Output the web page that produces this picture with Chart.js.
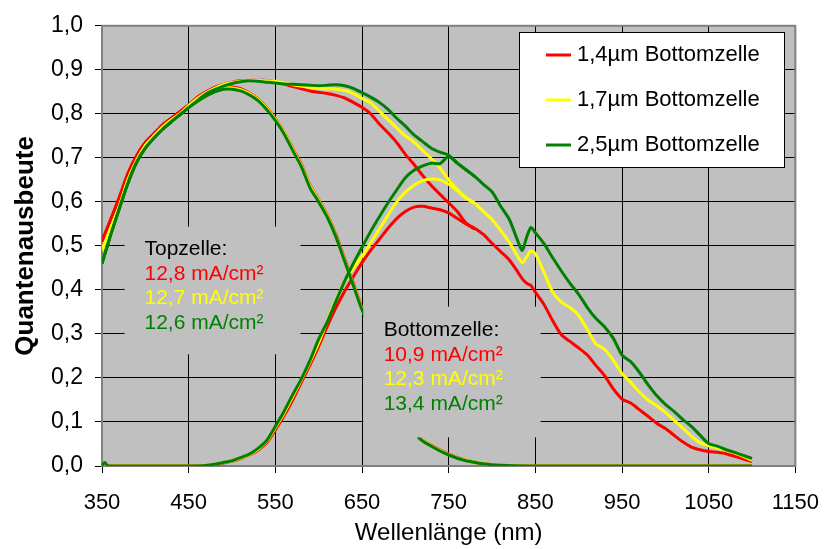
<!DOCTYPE html>
<html>
<head>
<meta charset="utf-8">
<script src="https://cdn.jsdelivr.net/npm/chart.js@4/dist/chart.umd.min.js"></script>
<style>
  html, body { margin: 0; padding: 0; background: #fff; }
</style>
</head>
<body>
<canvas id="grafico" width="836" height="549"></canvas>
<script>
// Quantenausbeute Tandemzelle: Summe, Topzelle, Bottomzelle je Bottomzellen-Dicke

const legendeTexte = ["1,4µm Bottomzelle", "1,7µm Bottomzelle", "2,5µm Bottomzelle"];
const topTitel = "Topzelle:";
const topStroeme = ["12,8 mA/cm²", "12,7 mA/cm²", "12,6 mA/cm²"];
const bottomTitel = "Bottomzelle:";
const bottomStroeme = ["10,9 mA/cm²", "12,3 mA/cm²", "13,4 mA/cm²"];

// Summenkurven
const wellenSumme = [
  350, 360, 370, 380, 390, 400, 410, 420, 430, 440, 450, 460, 470, 480, 490, 500,
  510, 520, 530, 540, 550, 560, 570, 580, 590, 600, 610, 620, 630, 640, 650, 660,
  670, 680, 690, 700, 710, 720, 730, 740, 750, 760, 770, 780, 790, 800, 810, 820,
  830, 835, 840, 845, 850, 860, 870, 880, 890, 900, 910, 920, 930, 940, 950, 960,
  970, 980, 990, 1000, 1010, 1020, 1030, 1040, 1050, 1060, 1070, 1080, 1090, 1100
];
const summe14 = [
  0.51, 0.56, 0.61, 0.665, 0.705, 0.735, 0.755, 0.775, 0.79, 0.805, 0.82, 0.838, 0.85, 0.86, 0.867, 0.872,
  0.875, 0.876, 0.876, 0.876, 0.873, 0.868, 0.862, 0.857, 0.852, 0.849, 0.846, 0.842, 0.836, 0.826, 0.815, 0.80,
  0.777, 0.757, 0.735, 0.708, 0.685, 0.66, 0.637, 0.617, 0.598, 0.578, 0.552, 0.54, 0.526, 0.506, 0.487, 0.468,
  0.44, 0.425, 0.415, 0.41, 0.395, 0.367, 0.33, 0.298, 0.283, 0.268, 0.252, 0.228, 0.205, 0.175, 0.152, 0.143,
  0.128, 0.113, 0.097, 0.085, 0.07, 0.055, 0.043, 0.037, 0.033, 0.031, 0.028, 0.022, 0.016, 0.01
];
const summe17 = [
  0.49, 0.54, 0.59, 0.65, 0.695, 0.728, 0.75, 0.77, 0.786, 0.80, 0.818, 0.835, 0.848, 0.858, 0.866, 0.871,
  0.874, 0.876, 0.876, 0.875, 0.874, 0.87, 0.866, 0.863, 0.86, 0.858, 0.857, 0.856, 0.853, 0.846, 0.835, 0.825,
  0.806, 0.787, 0.768, 0.75, 0.736, 0.717, 0.698, 0.677, 0.65, 0.628, 0.61, 0.597, 0.578, 0.56, 0.535, 0.508,
  0.475, 0.462, 0.475, 0.489, 0.482, 0.44, 0.395, 0.372, 0.36, 0.342, 0.31, 0.277, 0.265, 0.24, 0.21, 0.19,
  0.168, 0.15, 0.137, 0.122, 0.104, 0.086, 0.068, 0.053, 0.046, 0.041, 0.035, 0.03, 0.022, 0.013
];
const summe25 = [
  0.46, 0.525, 0.585, 0.643, 0.69, 0.722, 0.745, 0.765, 0.782, 0.798, 0.814, 0.83, 0.845, 0.855, 0.863, 0.869,
  0.873, 0.875, 0.874, 0.872, 0.87, 0.868, 0.867, 0.866, 0.865, 0.864, 0.865, 0.866, 0.864, 0.858, 0.848, 0.838,
  0.826, 0.81, 0.79, 0.772, 0.752, 0.737, 0.722, 0.713, 0.706, 0.688, 0.673, 0.658, 0.64, 0.623, 0.59, 0.56,
  0.51, 0.49, 0.52, 0.542, 0.53, 0.505, 0.473, 0.443, 0.415, 0.39, 0.36, 0.335, 0.316, 0.29, 0.252, 0.237,
  0.213, 0.185, 0.16, 0.14, 0.124, 0.106, 0.09, 0.07, 0.051, 0.045, 0.037, 0.031, 0.024, 0.017
];

// Topzelle (zwischen 650 und 715 nm vom Textfeld verdeckt)
const wellenTop = [
  350, 360, 370, 380, 390, 400, 410, 420, 430, 440, 450, 460, 470, 480, 490, 500,
  510, 520, 530, 540, 550, 560, 570, 580, 590, 600, 610, 620, 630, 640, 650,
  715, 730, 750, 770, 800, 850, 900, 950, 1000, 1050, 1100
];
const top14 = [
  0.51, 0.56, 0.61, 0.665, 0.705, 0.735, 0.755, 0.775, 0.79, 0.805, 0.82, 0.836, 0.847, 0.855, 0.861, 0.861,
  0.857, 0.847, 0.834, 0.814, 0.789, 0.759, 0.722, 0.685, 0.638, 0.605, 0.57, 0.525, 0.47, 0.415, 0.36,
  0.068, 0.047, 0.027, 0.013, 0.003, 0, 0, 0, 0, 0, 0
];
const top17 = [
  0.49, 0.54, 0.59, 0.65, 0.695, 0.728, 0.75, 0.77, 0.786, 0.80, 0.818, 0.833, 0.845, 0.853, 0.859, 0.859,
  0.855, 0.846, 0.833, 0.813, 0.788, 0.758, 0.72, 0.683, 0.636, 0.603, 0.568, 0.522, 0.467, 0.412, 0.357,
  0.067, 0.046, 0.026, 0.013, 0.003, 0, 0, 0, 0, 0, 0
];
const top25 = [
  0.46, 0.525, 0.585, 0.643, 0.69, 0.722, 0.745, 0.765, 0.782, 0.798, 0.814, 0.828, 0.84, 0.85, 0.856, 0.856,
  0.852, 0.843, 0.83, 0.81, 0.785, 0.755, 0.717, 0.68, 0.632, 0.60, 0.565, 0.52, 0.465, 0.41, 0.355,
  0.066, 0.045, 0.025, 0.012, 0.003, 0, 0, 0, 0, 0, 0
];

// Bottomzelle (ab ca. 780 nm deckungsgleich mit der Summe)
const wellenBottom = [
  350, 353, 357, 400, 450, 470, 480, 490, 500, 510, 520, 530, 540, 550, 560, 570,
  580, 590, 600, 610, 620, 630, 640, 650, 660, 670, 680, 690, 700, 710, 720, 730,
  740, 750, 760, 770, 780
];
const bottom14 = [
  0, 0.006, 0, 0, 0, 0.001, 0.003, 0.007, 0.011, 0.017, 0.025, 0.036, 0.053, 0.082, 0.114, 0.15,
  0.19, 0.23, 0.272, 0.318, 0.36, 0.397, 0.43, 0.462, 0.49, 0.515, 0.54, 0.562, 0.578, 0.588, 0.59, 0.586,
  0.582, 0.575, 0.562, 0.55, 0.538
];
const bottom17 = [
  0, 0.006, 0, 0, 0, 0.001, 0.004, 0.008, 0.012, 0.018, 0.026, 0.038, 0.056, 0.087, 0.12, 0.157,
  0.196, 0.236, 0.28, 0.33, 0.378, 0.418, 0.45, 0.476, 0.507, 0.538, 0.57, 0.6, 0.622, 0.638, 0.648, 0.652,
  0.65, 0.64, 0.625, 0.608, 0.597
];
const bottom25 = [
  0, 0.008, 0, 0, 0, 0.001, 0.004, 0.008, 0.012, 0.019, 0.027, 0.04, 0.058, 0.09, 0.124, 0.162,
  0.198, 0.24, 0.288, 0.328, 0.375, 0.42, 0.46, 0.497, 0.533, 0.566, 0.598, 0.627, 0.655, 0.672, 0.682, 0.688,
  0.687, 0.703, 0.688, 0.673, 0.658
];

const ROT = "#ff0000";
const GELB = "#ffff00";
const GRUEN = "#008000";
const farben = [ROT, GELB, GRUEN];
const SCHRIFT = "Arial, 'Liberation Sans', sans-serif";

function punkte(wellen, werte) {
  return wellen.map((x, i) => ({ x, y: werte[i] }));
}

// ebene: kleinere Zahl liegt weiter oben
function kurve(wellen, werte, farbe, ebene) {
  return {
    data: punkte(wellen, werte),
    borderColor: farbe,
    borderWidth: 3,
    pointRadius: 0,
    tension: 0.25,
    fill: false,
    order: ebene
  };
}

const datensaetze = [
  kurve(wellenTop, top14, ROT, 3),
  kurve(wellenBottom, bottom14, ROT, 3),
  kurve(wellenSumme, summe14, ROT, 3),
  kurve(wellenTop, top17, GELB, 2),
  kurve(wellenBottom, bottom17, GELB, 2),
  kurve(wellenSumme, summe17, GELB, 2),
  kurve(wellenTop, top25, GRUEN, 1),
  kurve(wellenBottom, bottom25, GRUEN, 1),
  kurve(wellenSumme, summe25, GRUEN, 1)
];

// Textfelder in Achsenkoordinaten (nm / Quantenausbeute)
const textfelder = [
  { x1: 376, x2: 579, y1: 0.544, y2: 0.254, tx: 399, ty: 0.492, titel: topTitel, zeilen: topStroeme },
  { x1: 651.5, x2: 856, y1: 0.362, y2: 0.065, tx: 675, ty: 0.308, titel: bottomTitel, zeilen: bottomStroeme }
];

const hintergrund = {
  id: "hintergrund",
  beforeDraw(chart) {
    const { ctx, chartArea: a } = chart;
    ctx.save();
    ctx.fillStyle = "#c0c0c0";
    ctx.fillRect(a.left, a.top, a.right - a.left, a.bottom - a.top);
    ctx.restore();
  },
  beforeDatasetsDraw(chart) {
    const { ctx, chartArea: a } = chart;
    ctx.save();
    ctx.strokeStyle = "#808080";
    ctx.lineWidth = 2;
    ctx.strokeRect(a.left, a.top, a.right - a.left, a.bottom - a.top);
    ctx.restore();
  }
};

const beschriftung = {
  id: "beschriftung",
  afterDatasetsDraw(chart) {
    const { ctx } = chart;
    const sx = chart.scales.x;
    const sy = chart.scales.y;
    ctx.save();
    textfelder.forEach(f => {
      const l = sx.getPixelForValue(f.x1);
      const r = sx.getPixelForValue(f.x2);
      const o = sy.getPixelForValue(f.y1);
      const u = sy.getPixelForValue(f.y2);
      ctx.fillStyle = "#c0c0c0";
      ctx.fillRect(l, o, r - l, u - o);

      const x = sx.getPixelForValue(f.tx);
      let y = sy.getPixelForValue(f.ty);
      ctx.font = "21px " + SCHRIFT;
      ctx.textAlign = "left";
      ctx.textBaseline = "middle";
      ctx.fillStyle = "#000";
      ctx.fillText(f.titel, x, y);
      f.zeilen.forEach((t, i) => {
        y += 24.5;
        ctx.fillStyle = farben[i];
        ctx.fillText(t, x, y);
      });
    });
    ctx.restore();
  }
};

const legende = {
  id: "legende",
  afterDraw(chart) {
    const { ctx } = chart;
    const l = 519, o = 32, r = 785, u = 168;
    ctx.save();
    ctx.fillStyle = "#fff";
    ctx.fillRect(l, o, r - l, u - o);
    ctx.strokeStyle = "#000";
    ctx.lineWidth = 1;
    ctx.strokeRect(l + 0.5, o + 0.5, r - l - 1, u - o - 1);
    ctx.font = "22px " + SCHRIFT;
    ctx.textAlign = "left";
    ctx.textBaseline = "middle";
    legendeTexte.forEach((t, i) => {
      const y = 55 + i * 45;
      ctx.strokeStyle = farben[i];
      ctx.lineWidth = 3;
      ctx.beginPath();
      ctx.moveTo(546, y);
      ctx.lineTo(571, y);
      ctx.stroke();
      ctx.fillStyle = "#000";
      ctx.fillText(t, 577, y);
    });
    ctx.restore();
  }
};

new Chart(document.getElementById("grafico"), {
  type: "line",
  data: { datasets: datensaetze },
  options: {
    responsive: false,
    animation: false,
    layout: { padding: { left: 0, top: 21, right: 31, bottom: 0 } },
    plugins: {
      legend: { display: false },
      tooltip: { enabled: false }
    },
    scales: {
      x: {
        type: "linear",
        min: 350,
        max: 1150,
        afterFit: s => { s.height = 83; },
        ticks: {
          stepSize: 100,
          color: "#000",
          padding: 17,
          maxRotation: 0,
          font: { family: SCHRIFT, size: 22 },
          callback: v => String(v)
        },
        grid: { color: "#000", lineWidth: 1, tickLength: 7, tickColor: "#000" },
        border: { color: "#808080", width: 2 },
        title: {
          display: true,
          text: "Wellenlänge (nm)",
          color: "#000",
          font: { family: SCHRIFT, size: 24 },
          padding: { top: 0, bottom: 1 }
        }
      },
      y: {
        min: 0,
        max: 1,
        afterFit: s => { s.width = 102; },
        ticks: {
          stepSize: 0.1,
          color: "#000",
          padding: 12,
          font: { family: SCHRIFT, size: 23 },
          callback: v => v.toFixed(1).replace(".", ",")
        },
        grid: { color: "#000", lineWidth: 1, tickLength: 7, tickColor: "#000" },
        border: { color: "#808080", width: 2 },
        title: {
          display: true,
          text: "Quantenausbeute",
          color: "#000",
          font: { family: SCHRIFT, size: 26, weight: "bold" },
          padding: { top: 10, bottom: 0 }
        }
      }
    }
  },
  plugins: [hintergrund, beschriftung, legende]
});
</script>
</body>
</html>
